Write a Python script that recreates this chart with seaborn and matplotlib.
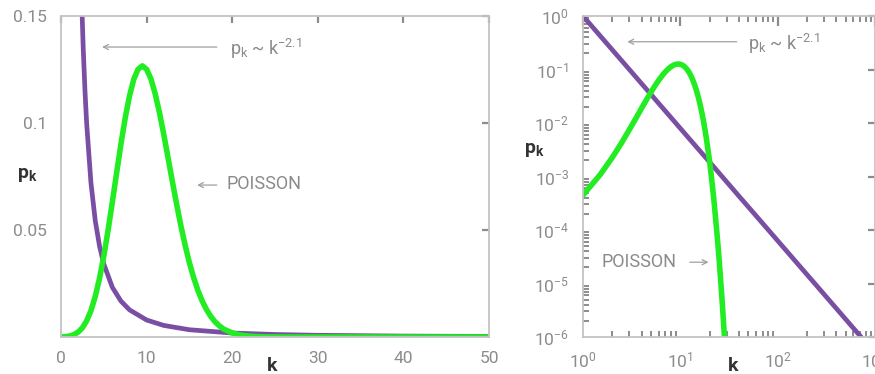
import matplotlib
matplotlib.use("Agg")
import matplotlib.pyplot as plt
import seaborn as sns
import pandas as pd
import numpy as np
from matplotlib.ticker import LogLocator, FixedLocator, FuncFormatter, NullFormatter

# ---------------- data ----------------
poisson_k = [0, 0.5, 1, 1.5, 2, 2.5, 3, 3.5, 4, 4.5, 5, 5.5, 6, 6.5, 7, 7.5,
             8, 8.5, 9, 9.5, 10, 10.5, 11, 11.5, 12, 12.5, 13, 13.5, 14, 14.5,
             15, 15.5, 16, 16.5, 17, 17.5, 18, 18.5, 19, 20, 21, 22, 23, 24,
             25, 26, 27, 28, 29, 30, 35, 40, 45, 50]
poisson_p = [0.000045, 0.00016, 0.00045, 0.00108, 0.00227, 0.0043, 0.00757,
             0.0123, 0.0189, 0.0274, 0.0378, 0.0499, 0.0631, 0.0767, 0.0901,
             0.1023, 0.1126, 0.1204, 0.1251, 0.1267, 0.1251, 0.1207, 0.1137,
             0.1049, 0.0948, 0.0839, 0.0729, 0.0622, 0.0521, 0.0429, 0.0347,
             0.0277, 0.0217, 0.0168, 0.0128, 0.0096, 0.0071, 0.0052, 0.0037,
             0.0019, 0.00089, 0.0004, 0.00017, 0.000072, 0.000029, 0.000011,
             0.0000042, 0.0000015, 0.00000051, 0.00000017, 0, 0, 0, 0]

power_k = [1, 2, 2.4, 2.6, 2.8, 3, 3.5, 4, 4.5, 5, 6, 7, 8, 10, 12, 15, 20,
           25, 30, 40, 50, 100, 1000]
power_p = [1.0, 0.233, 0.159, 0.1345, 0.1151, 0.0996, 0.0720, 0.0544, 0.0425,
           0.0341, 0.0232, 0.0168, 0.0127, 0.00794, 0.00541, 0.00339, 0.00186,
           0.00116, 0.00079, 0.00043, 0.00027, 0.0000631, 0.0000005]

lin_xticks = [0, 10, 20, 30, 40, 50]
lin_yticks = [0.05, 0.1, 0.15]
lin_ytick_labels = ["0.05", "0.1", "0.15"]

# ---------------- style ----------------
sns.set_theme(style="white")
plt.rcParams["font.family"] = ["Roboto", "DejaVu Sans"]
plt.rcParams["mathtext.fontset"] = "custom"
plt.rcParams["mathtext.rm"] = "Roboto"
plt.rcParams["mathtext.it"] = "Roboto"
plt.rcParams["mathtext.bf"] = "Roboto:bold"
plt.rcParams["mathtext.default"] = "regular"

PURPLE = "#7a4ea3"
GREEN = "#22ec22"
TICKGRAY = "#8c8c8c"
SPINE = "#c4c4c4"
TEXTGRAY = "#8a8a8a"
DARK = "#333333"
LW = 3.4

W, H = 875, 374
fig = plt.figure(figsize=(W / 100, H / 100), dpi=100)

def px_rect(x0, y0, x1, y1):
    return [x0 / W, 1 - y1 / H, (x1 - x0) / W, (y1 - y0) / H]

ax1 = fig.add_axes(px_rect(61, 16, 489, 337))
ax2 = fig.add_axes(px_rect(583, 16, 875, 337))

df_pois = pd.DataFrame({"k": poisson_k, "p": poisson_p})
df_pow = pd.DataFrame({"k": power_k, "p": power_p})

# ---------------- left: linear ----------------
sns.lineplot(data=df_pow, x="k", y="p", ax=ax1, color=PURPLE, lw=LW,
             sort=False, estimator=None)
sns.lineplot(data=df_pois, x="k", y="p", ax=ax1, color=GREEN, lw=LW + 0.6,
             sort=False, estimator=None)
ax1.set_xlim(0, 50)
ax1.set_ylim(0, 0.15)
ax1.set_xticks(lin_xticks)
ax1.set_yticks(lin_yticks)
ax1.set_yticklabels(lin_ytick_labels)
ax1.set_xlabel("")
ax1.set_ylabel("")

# ---------------- right: log-log ----------------
df_pois_log = df_pois[(df_pois["k"] >= 1) & (df_pois["p"] > 0)]
sns.lineplot(data=df_pow, x="k", y="p", ax=ax2, color=PURPLE, lw=LW,
             sort=False, estimator=None)
sns.lineplot(data=df_pois_log, x="k", y="p", ax=ax2, color=GREEN, lw=LW + 0.6,
             sort=False, estimator=None)
ax2.set_xscale("log")
ax2.set_yscale("log")
ax2.set_xlim(1, 1000)
ax2.set_ylim(1e-6, 1)
ax2.set_xlabel("")
ax2.set_ylabel("")
ax2.xaxis.set_major_locator(LogLocator(base=10, numticks=10))
ax2.xaxis.set_minor_locator(LogLocator(base=10, subs=np.arange(2, 10), numticks=20))
ax2.yaxis.set_major_locator(LogLocator(base=10, numticks=10))
ax2.yaxis.set_minor_locator(LogLocator(base=10, subs=np.arange(2, 10), numticks=20))
ax2.xaxis.set_minor_formatter(NullFormatter())
ax2.yaxis.set_minor_formatter(NullFormatter())
fmt = FuncFormatter(lambda v, pos: r"$10^{%d}$" % int(round(np.log10(v))))
ax2.xaxis.set_major_formatter(fmt)
ax2.yaxis.set_major_formatter(fmt)

for ax in (ax1, ax2):
    for s in ax.spines.values():
        s.set_color(SPINE)
        s.set_linewidth(1.3)
    ax.tick_params(which="major", direction="in", length=5, width=1.6,
                   color=TICKGRAY, labelcolor=TICKGRAY, labelsize=12.5,
                   top=True, right=True, pad=10)
    ax.tick_params(which="minor", direction="in", length=4, width=1.4,
                   color=TICKGRAY, top=True, left=True, bottom=True, right=False)

ax2.tick_params(which="major", axis="x", length=7)

# ---------------- axis labels ----------------
fig.text(27 / W, 1 - 175 / H, r"$\mathbf{p_k}$", color=DARK, fontsize=14,
         ha="center", va="center")
fig.text(272 / W, 1 - 366 / H, r"$\mathbf{k}$", color=DARK, fontsize=14,
         ha="center", va="center")
fig.text(534 / W, 1 - 150 / H, r"$\mathbf{p_k}$", color=DARK, fontsize=14,
         ha="center", va="center")
fig.text(733 / W, 1 - 366 / H, r"$\mathbf{k}$", color=DARK, fontsize=14,
         ha="center", va="center")

# ---------------- annotations ----------------
arrow = dict(arrowstyle="->", color="#a0a0a0", lw=0.9, shrinkA=0, shrinkB=0,
             mutation_scale=9)
ann_kw = dict(color=TEXTGRAY, fontsize=13, va="center", ha="left")

ax1.annotate("", xy=(4.8, 0.1355), xytext=(18.2, 0.1355), arrowprops=arrow)
ax1.text(19.8, 0.1345, r"$p_k$ ~ $k^{-2.1}$", **ann_kw)
ax1.annotate("", xy=(15.9, 0.071), xytext=(18.2, 0.071), arrowprops=arrow)
ax1.text(19.3, 0.0715, "POISSON", **ann_kw)

ax2.annotate("", xy=(2.85, 0.33), xytext=(38, 0.33), arrowprops=arrow)
ax2.text(50, 0.30, r"$p_k$ ~ $k^{-2.1}$", **ann_kw)
ax2.text(1.55, 2.5e-5, "POISSON", **ann_kw)
ax2.annotate("", xy=(19.5, 2.5e-5), xytext=(12.5, 2.5e-5), arrowprops=arrow)

fig.savefig("out.png", dpi=100)
